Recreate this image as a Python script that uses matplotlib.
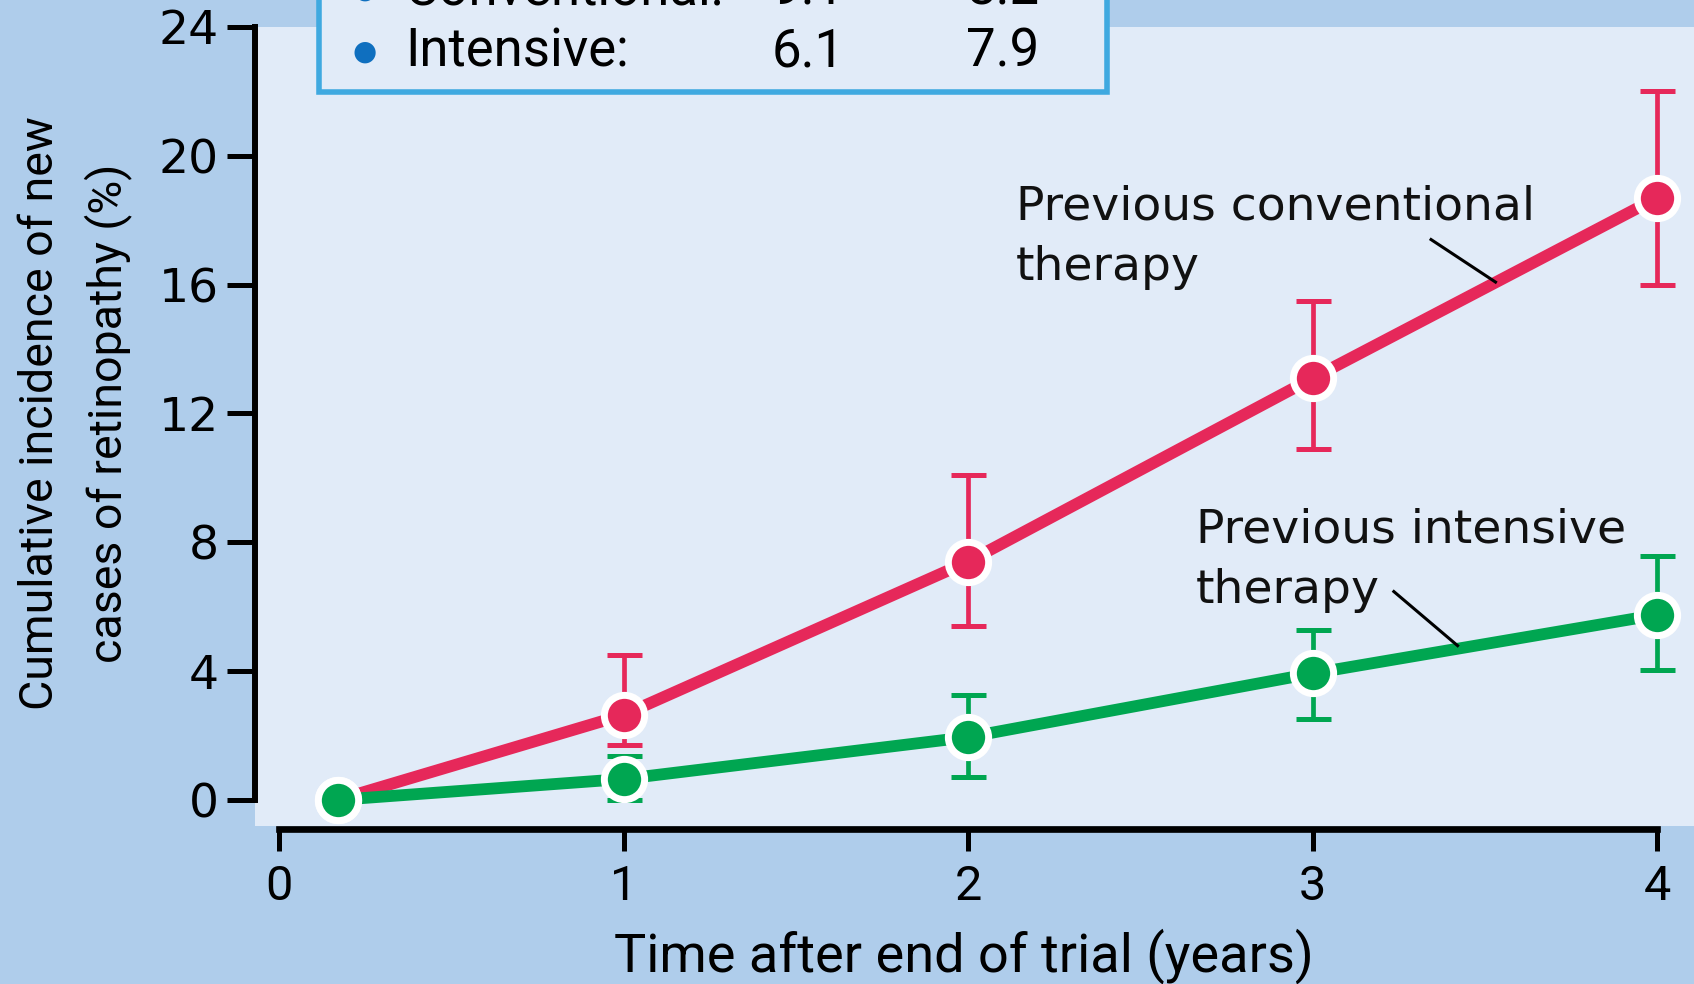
import numpy as np
import matplotlib.pyplot as plt

# data
years = [0.17, 1, 2, 3, 4]
conv = [0.0, 2.64, 7.4, 13.1, 18.7]
conv_lo = [0.0, 1.71, 5.4, 10.9, 16.0]
conv_hi = [0.0, 4.5, 10.1, 15.5, 22.0]
inten = [0.0, 0.65, 1.95, 3.93, 5.75]
inten_lo = [0.0, 0.0, 0.7, 2.5, 4.03]
inten_hi = [0.0, 1.37, 3.26, 5.28, 7.56]

legend_rows = ['Conventional:', 'Intensive:']
legend_v1 = ['9.1', '6.1']
legend_v2 = ['8.2', '7.9']

outer = '#afcdeb'
panel = '#e1ebf8'
red = '#e6285a'
green = '#00a651'
narrow = ['Roboto', 'DejaVu Sans']

W, H = 1694, 984
fig = plt.figure(figsize=(W / 100, H / 100), dpi=100, facecolor=outer)

def fx(px):
    return px / W

def fy(py):
    return 1 - py / H

ax = fig.add_axes([fx(255), fy(826), fx(W - 255), (826 - 27) / H])
ax.set_facecolor(panel)
ax.set_xlim(-0.0696, 4.106)
ax.set_ylim(-0.81, 24)

for s in ['top', 'right']:
    ax.spines[s].set_visible(False)
ax.spines['left'].set_bounds(0, 24)
ax.spines['left'].set_linewidth(4.3)
ax.spines['bottom'].set_bounds(0, 4)
ax.spines['bottom'].set_linewidth(4.8)
ax.spines['bottom'].set_position(('outward', 2))

ax.set_yticks(range(0, 25, 4))
ax.set_xticks(range(0, 5))
ax.tick_params(axis='y', direction='out', length=20, width=3.6, pad=6, labelsize=34)
ax.tick_params(axis='x', direction='out', length=16, width=3.6, pad=9, labelsize=35)
for lab in ax.get_xticklabels():
    lab.set_family(narrow)

def draw(y, lo, hi, color):
    y = np.array(y)
    err = [y - np.array(lo), np.array(hi) - y]
    ax.errorbar(years[1:], y[1:], yerr=[err[0][1:], err[1][1:]], fmt='none',
                ecolor=color, elinewidth=3.4, capsize=12.6, capthick=3.6, zorder=2)
    ax.plot(years, y, color=color, lw=8.5, zorder=3, solid_capstyle='round')
    ax.plot(years, y, 'o', color=color, ms=29, mec='white', mew=5, zorder=4,
            clip_on=False)

draw(conv, conv_lo, conv_hi, red)
draw(inten, inten_lo, inten_hi, green)

ann_font = dict(fontsize=34, color='#111111', family='DejaVu Sans', linespacing=1.45)
ax.text(2.139, 17.47, 'Previous conventional\ntherapy', ha='left', va='center', **ann_font)
ax.text(2.661, 7.45, 'Previous intensive\ntherapy', ha='left', va='center', **ann_font)
ax.plot([3.343, 3.53], [17.4, 16.08], color='black', lw=2.2, zorder=5)
ax.plot([3.235, 3.42], [6.47, 4.79], color='black', lw=2.2, zorder=5)

fig.text(fx(964), fy(956), 'Time after end of trial (years)', ha='center', va='center',
         fontsize=39, family=narrow)
fig.text(fx(75), fy(413), 'Cumulative incidence of new\ncases of retinopathy (%)',
         ha='center', va='center', rotation=90, fontsize=33.5, family=narrow,
         linespacing=1.6)

# legend box, its top row clipped at the figure edge as in the reference
box = plt.Rectangle((fx(319), fy(92)), fx(1107 - 319), 0.2, transform=fig.transFigure,
                    facecolor=panel, edgecolor='#3fa9e0', lw=4, zorder=5)
fig.add_artist(box)
row_y = [-10, 52]
for name, v1, v2, yy in zip(legend_rows, legend_v1, legend_v2, row_y):
    fig.text(fx(365), fy(yy), '\u25cf', ha='center', va='center', fontsize=20,
             color='#0f6fbf', zorder=6)
    fig.text(fx(405), fy(yy), name, ha='left', va='center', fontsize=38,
             family=narrow, zorder=6)
    fig.text(fx(808), fy(yy), v1, ha='center', va='center', fontsize=38,
             family=narrow, zorder=6)
    fig.text(fx(1003), fy(yy), v2, ha='center', va='center', fontsize=38,
             family=narrow, zorder=6)

fig.savefig('out.png', dpi=100, facecolor=outer)
